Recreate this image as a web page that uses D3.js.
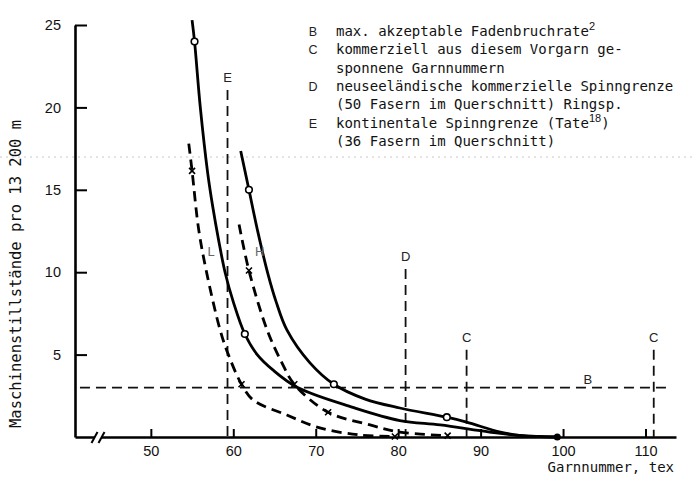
<!DOCTYPE html>
<html>
<head>
<meta charset="utf-8">
<script src="https://d3js.org/d3.v7.min.js"></script>
<style>
  body { margin: 0; background: #fff; }
  svg { display: block; }
</style>
</head>
<body>
<script>
// curves, [Garnnummer tex, Maschinenstillstaende]
const solidL = [[55.0, 25.3], [55.3, 24.0], [56.0, 20], [56.9, 16], [57.5, 14], [58.2, 12], [59.0, 10], [60.0, 8.2],
  [61.4, 6.25], [62.9, 5.0], [64.8, 4.07], [67.8, 3.0], [74.5, 1.8], [80.2, 1.0], [85.1, 0.73], [91.1, 0.3], [95, 0.08], [99.3, 0]];
const solidH = [[60.9, 17.35], [61.9, 15.0], [63.0, 12.4], [64.2, 9.9], [65.2, 8.2], [66.5, 6.5], [69.3, 4.5], [72.2, 3.2],
  [76.0, 2.3], [80.2, 1.76], [85.9, 1.2], [88.3, 0.9], [92.4, 0.3], [95, 0.08], [99.3, 0]];
const dashL = [[54.6, 17.8], [55.0, 16.15], [55.8, 12.6], [56.8, 9.9], [58.4, 6.5], [59.4, 5.0], [61.0, 3.2],
  [62.4, 2.25], [66.5, 1.33], [70.5, 0.55], [75.4, 0.12], [79.6, 0.03]];
const dashH = [[60.7, 12.9], [61.9, 10.1], [64.1, 6.5], [65.9, 4.5], [67.4, 3.2], [71.5, 1.5], [76.6, 0.73],
  [80.2, 0.3], [86.0, 0.08]];

// markers
const circleMarks = [[55.3, 24.0], [61.4, 6.25], [61.9, 15.0], [72.2, 3.2], [85.9, 1.2]];
const crossMarks = [[55.0, 16.15], [61.0, 3.2], [79.6, 0.03], [61.9, 10.1], [67.4, 3.2], [71.5, 1.5], [86.0, 0.08]];
const endDot = [[99.3, 0]];

// reference lines B, C, D, E
const vLines = [{ k: 'E', x: 59.3, top: 21.05 }, { k: 'D', x: 80.9, top: 10.2 },
  { k: 'C', x: 88.3, top: 5.3 }, { k: 'C', x: 111.0, top: 5.3 }];
const bLevel = 3.0;
const bFrom = 41.4, bTo = 112.5;

const xTicks = [50, 60, 70, 80, 90, 100, 110];
const yTicks = [5, 10, 15, 20, 25];

const legendKeys = ['B', 'C', '', 'D', '', 'E', ''];
const legendText = [
  ['max. akzeptable Fadenbruchrate', '2', ''],
  ['kommerziell aus diesem Vorgarn ge-', '', ''],
  ['sponnene Garnnummern', '', ''],
  ['neuseeländische kommerzielle Spinngrenze', '', ''],
  ['(50 Fasern im Querschnitt) Ringsp.', '', ''],
  ['kontinentale Spinngrenze (Tate', '18', ')'],
  ['(36 Fasern im Querschnitt)', '', '']
];

const W = 693, H = 479;
const mono = 'DejaVu Sans Mono, monospace';
const sans = 'Liberation Sans, Arial, sans-serif';

const svg = d3.select('body').append('svg')
  .attr('width', W)
  .attr('height', H);

// faint scan line
svg.append('line')
  .attr('x1', 0).attr('x2', W)
  .attr('y1', 157).attr('y2', 157)
  .attr('stroke', '#c8c8c8')
  .attr('stroke-width', 1)
  .attr('stroke-dasharray', '2,4');

const x = d3.scaleLinear().domain([40.8, 113.7]).range([75, 676]);
const y = d3.scaleLinear().domain([0, 25]).range([437, 25]);

// axes
const gx = svg.append('g')
  .attr('transform', `translate(0, ${y(0)})`)
  .call(d3.axisBottom(x).tickValues(xTicks).tickSizeInner(-8).tickSizeOuter(0).tickPadding(9));
const gy = svg.append('g')
  .attr('transform', `translate(${x.range()[0]}, 0)`)
  .call(d3.axisLeft(y).tickValues(yTicks).tickSizeInner(-12).tickSizeOuter(0).tickPadding(14));

[gx, gy].forEach(g => {
  g.select('.domain').attr('stroke', '#000').attr('stroke-width', 2.6);
  g.selectAll('.tick line').attr('stroke', '#000').attr('stroke-width', 2);
  g.selectAll('.tick text').attr('font-family', sans).attr('font-size', 14.5).attr('fill', '#111');
});

// axis break
const bx = 98;
svg.append('rect').attr('x', bx - 3).attr('y', y(0) - 3).attr('width', 6).attr('height', 6).attr('fill', '#fff');
[-3.5, 3.5].forEach(o => {
  svg.append('line')
    .attr('x1', bx + o - 3).attr('y1', y(0) + 6)
    .attr('x2', bx + o + 3).attr('y2', y(0) - 5)
    .attr('stroke', '#000').attr('stroke-width', 2);
});

// reference lines
svg.append('line')
  .attr('x1', x(bFrom)).attr('x2', x(bTo))
  .attr('y1', y(bLevel)).attr('y2', y(bLevel))
  .attr('stroke', '#111').attr('stroke-width', 1.8)
  .attr('stroke-dasharray', '10,6');
svg.append('text')
  .attr('x', x(103)).attr('y', y(bLevel) - 4)
  .attr('text-anchor', 'middle')
  .attr('font-family', sans).attr('font-size', 13).attr('fill', '#222')
  .text('B');

svg.selectAll('.vref')
  .data(vLines)
  .join('line')
  .attr('class', 'vref')
  .attr('x1', d => x(d.x)).attr('x2', d => x(d.x))
  .attr('y1', d => y(d.top)).attr('y2', y(0))
  .attr('stroke', '#111').attr('stroke-width', 1.8)
  .attr('stroke-dasharray', '10,6');

svg.selectAll('.vlab')
  .data(vLines)
  .join('text')
  .attr('class', 'vlab')
  .attr('x', d => x(d.x)).attr('y', d => y(d.top) - 8)
  .attr('text-anchor', 'middle')
  .attr('font-family', sans).attr('font-size', 13).attr('fill', '#222')
  .text(d => d.k);

// curves
const line = d3.line()
  .x(d => x(d[0]))
  .y(d => y(d[1]))
  .curve(d3.curveCatmullRom.alpha(0.5));

[[solidL, null], [solidH, null], [dashL, '10,6'], [dashH, '10,6']].forEach(([data, dash]) => {
  svg.append('path')
    .datum(data)
    .attr('d', line)
    .attr('fill', 'none')
    .attr('stroke', '#000')
    .attr('stroke-width', 2.8)
    .attr('stroke-dasharray', dash);
});

svg.selectAll('.circ')
  .data(circleMarks)
  .join('circle')
  .attr('class', 'circ')
  .attr('cx', d => x(d[0])).attr('cy', d => y(d[1]))
  .attr('r', 3.3)
  .attr('fill', '#fff').attr('stroke', '#000').attr('stroke-width', 1.6);

svg.selectAll('.cross')
  .data(crossMarks)
  .join('path')
  .attr('class', 'cross')
  .attr('d', d => {
    const cx = x(d[0]), cy = y(d[1]);
    return `M${cx - 3},${cy - 3}L${cx + 3},${cy + 3}M${cx - 3},${cy + 3}L${cx + 3},${cy - 3}`;
  })
  .attr('stroke', '#000').attr('stroke-width', 1.6);

svg.selectAll('.dot')
  .data(endDot)
  .join('circle')
  .attr('class', 'dot')
  .attr('cx', d => x(d[0])).attr('cy', d => y(d[1]))
  .attr('r', 3.5).attr('fill', '#000');

// L / H curve labels
[['L', 57.3, 11.3], ['H', 63.2, 11.3]].forEach(([t, vx, vy]) => {
  svg.append('text')
    .attr('x', x(vx)).attr('y', y(vy) + 5)
    .attr('text-anchor', 'middle')
    .attr('font-family', sans).attr('font-size', 13).attr('fill', '#666')
    .text(t);
});

// legend
const lg = svg.append('g');
legendText.forEach((row, i) => {
  const by = 36 + i * 18.3;
  if (legendKeys[i]) {
    lg.append('text')
      .attr('x', 313).attr('y', by)
      .attr('text-anchor', 'middle')
      .attr('font-family', sans).attr('font-size', 12.5).attr('fill', '#222')
      .text(legendKeys[i]);
  }
  const t = lg.append('text')
    .attr('x', 336).attr('y', by)
    .attr('font-family', mono).attr('font-size', 14).attr('fill', '#111');
  t.append('tspan').text(row[0]);
  if (row[1]) {
    t.append('tspan').attr('dy', -6).attr('font-size', 11).attr('font-family', sans).text(row[1]);
    if (row[2]) t.append('tspan').attr('dy', 6).text(row[2]);
  }
});

// axis titles
svg.append('text')
  .attr('transform', 'translate(21, 274) rotate(-90)')
  .attr('text-anchor', 'middle')
  .attr('font-family', mono).attr('font-size', 15.5).attr('fill', '#111')
  .text('Maschinenstillstände pro 13 200 m');

svg.append('text')
  .attr('x', 674).attr('y', 472)
  .attr('text-anchor', 'end')
  .attr('font-family', mono).attr('font-size', 14).attr('fill', '#111')
  .text('Garnnummer, tex');
</script>
</body>
</html>
